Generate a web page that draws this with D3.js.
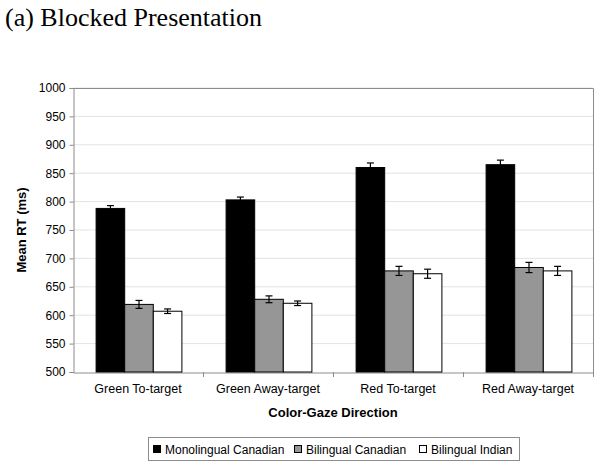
<!DOCTYPE html>
<html>
<head>
<meta charset="utf-8">
<script src="https://cdn.jsdelivr.net/npm/d3@7"></script>
<style>
  body { margin: 0; background: #fff; }
  svg { display: block; }
</style>
</head>
<body>
<div id="chart"></div>
<script>
// chart data
const categories = ["Green To-target", "Green Away-target", "Red To-target", "Red Away-target"];
const seriesNames = ["Monolingual Canadian", "Bilingual Canadian", "Bilingual Indian"];
const seriesColors = ["#000000", "#969696", "#ffffff"];
const monolingualCanadian = [788, 803, 860, 865];
const bilingualCanadian = [619, 628, 678, 684];
const bilingualIndian = [607, 621, 673, 678];
const errMonolingual = [5, 5, 8, 8];
const errBilingualCan = [7, 6, 8, 9];
const errBilingualInd = [4, 4, 8, 8];
const yTicks = [500, 550, 600, 650, 700, 750, 800, 850, 900, 950, 1000];

const width = 600;
const height = 467;
const margin = {top: 88, right: 7, bottom: 95, left: 73};

const svg = d3.select("#chart")
    .append("svg")
    .attr("width", width)
    .attr("height", height);

// build a table the layout can use
const values = [monolingualCanadian, bilingualCanadian, bilingualIndian];
const errors = [errMonolingual, errBilingualCan, errBilingualInd];
const rows = [];
categories.forEach(function(c, i) {
    seriesNames.forEach(function(s, j) {
        rows.push({cat: c, series: s, idx: j, value: values[j][i], err: errors[j][i]});
    });
});

const x0 = d3.scaleBand()
    .domain(categories)
    .range([margin.left, width - margin.right])
    .padding(0);

const pad = x0.bandwidth() * 0.17;
const x1 = d3.scaleBand()
    .domain(seriesNames)
    .range([pad + 1, x0.bandwidth() - pad + 1])
    .padding(0);

const y = d3.scaleLinear()
    .domain([500, 1000])
    .range([height - margin.bottom, margin.top]);

// title
svg.append("text")
    .attr("x", 5)
    .attr("y", 26)
    .style("font-family", "'Liberation Serif', 'Times New Roman', serif")
    .style("font-size", "26px")
    .text("(a) Blocked Presentation");

// gridlines
svg.append("g")
   .selectAll("line")
   .data(yTicks.slice(1))
   .join("line")
    .attr("x1", margin.left)
    .attr("x2", width - margin.right)
    .attr("y1", function(d) { return y(d); })
    .attr("y2", function(d) { return y(d); })
    .style("stroke", "#e3e3e3")
    .style("stroke-width", 1);

// frame: top and right border
svg.append("path")
    .attr("d", "M" + margin.left + "," + (margin.top + 0.5) +
               "H" + (width - margin.right + 0.5) +
               "V" + (height - margin.bottom))
    .style("fill", "none")
    .style("stroke", "#8c8c8c");

// y axis
const yAxis = svg.append("g")
    .attr("transform", "translate(" + (margin.left + 0.5) + ",0)")
    .call(d3.axisLeft(y).tickValues(yTicks).tickFormat(d3.format("d")).tickSize(4).tickPadding(4));

// x axis
const xAxis = svg.append("g")
    .attr("transform", "translate(0," + (height - margin.bottom + 0.5) + ")")
    .call(d3.axisBottom(x0).tickSize(0).tickPadding(12));

// category separators on the x axis
svg.append("g")
   .selectAll("line")
   .data(categories)
   .join("line")
    .attr("x1", function(d) { return x0(d) + x0.bandwidth() + 0.5; })
    .attr("x2", function(d) { return x0(d) + x0.bandwidth() + 0.5; })
    .attr("y1", height - margin.bottom)
    .attr("y2", height - margin.bottom + 5)
    .style("stroke", "#8c8c8c");

[yAxis, xAxis].forEach(function(a) {
    a.select(".domain").style("stroke", "#8c8c8c");
    a.selectAll(".tick line").style("stroke", "#8c8c8c");
    a.selectAll("text")
        .style("font-family", "'Liberation Sans', Arial, sans-serif")
        .style("font-size", "12px")
        .style("fill", "#000");
});
xAxis.selectAll("text").style("font-size", "12.5px");

// bars
svg.append("g")
   .selectAll("rect")
   .data(rows)
   .join("rect")
    .attr("x", function(d) { return x0(d.cat) + x1(d.series); })
    .attr("y", function(d) { return y(d.value); })
    .attr("width", x1.bandwidth())
    .attr("height", function(d) { return y(500) - y(d.value); })
    .style("fill", function(d) { return seriesColors[d.idx]; })
    .style("stroke", "#000")
    .style("stroke-width", 1);

// error bars
const eb = svg.append("g")
   .selectAll("g")
   .data(rows)
   .join("g")
    .attr("transform", function(d) {
        return "translate(" + (x0(d.cat) + x1(d.series) + x1.bandwidth() / 2) + ",0)";
    })
    .style("stroke", "#000")
    .style("stroke-width", 1.2);

eb.append("line")
    .attr("x1", 0).attr("x2", 0)
    .attr("y1", function(d) { return y(d.value + d.err); })
    .attr("y2", function(d) { return y(d.value - d.err); });

eb.selectAll("line.cap")
    .data(function(d) { return [d.value + d.err, d.value - d.err]; })
    .join("line")
    .attr("class", "cap")
    .attr("x1", -3.5).attr("x2", 3.5)
    .attr("y1", function(v) { return y(v); })
    .attr("y2", function(v) { return y(v); });

// axis titles
svg.append("text")
    .attr("transform", "translate(26," + ((margin.top + height - margin.bottom) / 2) + ") rotate(-90)")
    .attr("text-anchor", "middle")
    .style("font-family", "'Liberation Sans', Arial, sans-serif")
    .style("font-size", "13px")
    .style("font-weight", "bold")
    .text("Mean RT (ms)");

svg.append("text")
    .attr("x", (margin.left + width - margin.right) / 2)
    .attr("y", 417)
    .attr("text-anchor", "middle")
    .style("font-family", "'Liberation Sans', Arial, sans-serif")
    .style("font-size", "13px")
    .style("font-weight", "bold")
    .text("Color-Gaze Direction");

// legend
const legend = svg.append("g");
legend.append("rect")
    .attr("x", 148.5)
    .attr("y", 437.5)
    .attr("width", 371)
    .attr("height", 23)
    .style("fill", "#fff")
    .style("stroke", "#8c8c8c");

const legendX = [153, 294, 419];
const item = legend.selectAll("g.item")
    .data(seriesNames)
    .join("g")
    .attr("class", "item")
    .attr("transform", function(d, i) { return "translate(" + legendX[i] + ",0)"; });

item.append("rect")
    .attr("x", 0.5)
    .attr("y", 445.5)
    .attr("width", 7)
    .attr("height", 7)
    .style("fill", function(d, i) { return seriesColors[i]; })
    .style("stroke", "#000");

item.append("text")
    .attr("x", 12)
    .attr("y", 453.5)
    .style("font-family", "'Liberation Sans', Arial, sans-serif")
    .style("font-size", "12px")
    .text(function(d) { return d; });
</script>
</body>
</html>
